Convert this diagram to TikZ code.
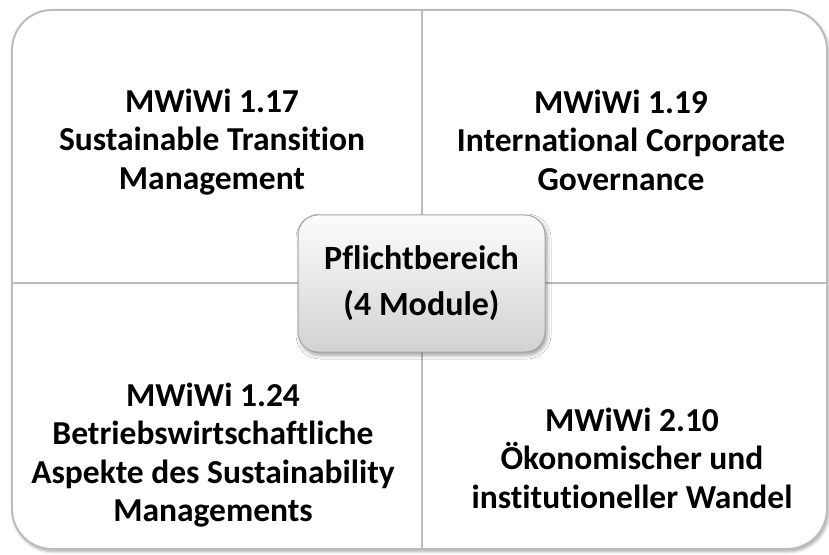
\documentclass[tikz,border=0pt]{standalone}
\usepackage{fontspec}
\setmainfont[Ligatures=NoCommon]{Carlito}
\usetikzlibrary{shadows.blur}
\definecolor{frameline}{RGB}{188,188,188}
\definecolor{boxtop}{RGB}{252,252,252}
\definecolor{boxbottom}{RGB}{210,210,210}
\definecolor{boxline}{RGB}{165,165,165}
\begin{document}
\begin{tikzpicture}[x=1bp,y=-1bp,
  panel/.style={draw=frameline, line width=2bp, fill=white, rounded corners=40bp,
    inner sep=0pt, minimum width=815bp, minimum height=539bp,
    blur shadow={shadow xshift=1.5bp, shadow yshift=-2.5bp, shadow blur radius=3bp, shadow opacity=35}},
  divider/.style={draw=frameline, line width=2bp},
  modtext/.style={align=center, inner sep=0pt, font=\bfseries\fontsize{33.5bp}{38.5bp}\selectfont},
  hub/.style={draw=boxline, line width=1bp, rounded corners=20bp,
    top color=boxtop, bottom color=boxbottom,
    minimum width=247bp, minimum height=137bp, inner sep=0pt, align=center,
    font=\bfseries\fontsize{34bp}{46bp}\selectfont,
    blur shadow={shadow xshift=2bp, shadow yshift=-3bp, shadow blur radius=4bp, shadow opacity=40}}
]
\useasboundingbox (0,0) rectangle (829,555);

% outer frame of the four-field matrix
\node[panel] (frame) at (419.5,279.5) {};

% central hub position and the two dividers
\coordinate (hubc) at (421.5,283.5);
\draw[divider] (frame.north -| hubc) -- (frame.south -| hubc);
\draw[divider] (frame.west |- hubc) -- (frame.east |- hubc);

% the four modules
\node[modtext] (m117) at (212,142) {MWiWi 1.17\\Sustainable Transition\\Management};
\node[modtext] (m119) at (621,140) {MWiWi 1.19\\International Corporate\\Governance};
\node[modtext] (m124) at (213,455) {MWiWi 1.24\\Betriebswirtschaftliche\\Aspekte des Sustainability\\Managements};
\node[modtext] (m210) at (632,458) {MWiWi 2.10\\Ökonomischer und\\institutioneller Wandel};

% centre box
\node[hub] (hub) at (hubc) {Pflichtbereich\\(4 Module)};
\end{tikzpicture}
\end{document}
